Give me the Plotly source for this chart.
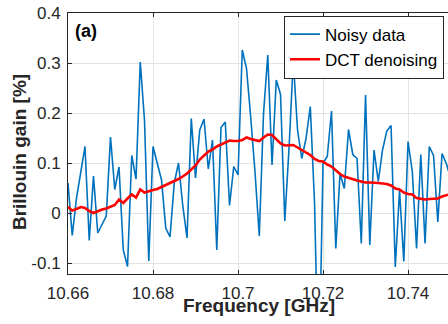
import plotly.graph_objects as go

freq_start = 10.660
freq_step = 0.001

noisy = [0.06, -0.045, 0.03, 0.08, 0.133, -0.055, 0.074, -0.04, -0.022, -0.006,
         0.152, 0.047, 0.092, -0.074, -0.107, 0.115, 0.068, 0.302, 0.185, -0.096,
         0.133, 0.1, 0.066, -0.03, -0.048, 0.06, 0.1, 0.015, -0.05, 0.189,
         0.07, 0.166, 0.188, 0.088, 0.146, -0.074, 0.171, 0.182, 0.015, 0.093,
         0.076, 0.326, 0.289, 0.19, 0.082, -0.046, 0.199, 0.316, 0.096, 0.266,
         0.237, -0.016, 0.13, 0.305, 0.166, 0.109, 0.149, 0.213, 0.02, -0.35,
         0.1, 0.113, 0.204, -0.071, 0.079, 0.049, 0.167, 0.117, 0.109, -0.061,
         0.236, -0.064, 0.126, 0.063, 0.126, 0.164, 0.175, -0.108, 0.045, -0.097,
         0.143, 0.083, -0.071, 0.117, -0.061, 0.133, 0.115, -0.018, 0.119, 0.099,
         0.07]

dct = [0.012, 0.005, 0.008, 0.012, 0.01, 0.004, 0.0, 0.004, 0.007, 0.009,
       0.013, 0.016, 0.027, 0.02, 0.029, 0.037, 0.031, 0.047, 0.041, 0.044,
       0.046, 0.048, 0.052, 0.056, 0.059, 0.063, 0.068, 0.073, 0.079, 0.087,
       0.095, 0.107, 0.116, 0.123, 0.127, 0.133, 0.137, 0.141, 0.145, 0.144,
       0.144, 0.146, 0.151, 0.148, 0.146, 0.144, 0.151, 0.157, 0.156, 0.147,
       0.139, 0.135, 0.135, 0.136, 0.131, 0.126, 0.121, 0.116, 0.108, 0.104,
       0.103, 0.097, 0.093, 0.085, 0.078, 0.073, 0.07, 0.067, 0.065, 0.063,
       0.061, 0.061, 0.061, 0.06, 0.059, 0.058, 0.055, 0.049, 0.047, 0.041,
       0.038, 0.037, 0.03, 0.028, 0.027, 0.028, 0.028, 0.029, 0.033, 0.036,
       0.038]

freq = [round(freq_start + freq_step * i, 4) for i in range(len(noisy))]

x_tickvals = [10.66, 10.68, 10.70, 10.72, 10.74]
x_ticktext = ["10.66", "10.68", "10.7", "10.72", "10.74"]
y_tickvals = [-0.1, 0.0, 0.1, 0.2, 0.3, 0.4]
y_ticktext = ["-0.1", "0", "0.1", "0.2", "0.3", "0.4"]

FONT = "Liberation Sans, Arial, sans-serif"
INK = "#262626"

fig = go.Figure()
fig.add_trace(go.Scatter(x=freq, y=noisy, mode="lines", name="Noisy data",
                         line=dict(color="#0072BD", width=1.6)))
fig.add_trace(go.Scatter(x=freq, y=dct, mode="lines", name="DCT denoising",
                         line=dict(color="#FF0000", width=2.6)))

fig.update_layout(
    width=448, height=324,
    margin=dict(l=68, r=0, t=13, b=50, autoexpand=False),
    plot_bgcolor="white", paper_bgcolor="white",
    font=dict(family=FONT, size=17, color=INK),
    showlegend=True,
    legend=dict(x=0.9895, y=0.99, xanchor="right", yanchor="top",
                bgcolor="white", bordercolor=INK, borderwidth=1,
                font=dict(family=FONT, size=17, color="black"),
                tracegroupgap=0),
)
fig.update_xaxes(range=[10.66, 10.7494], tickvals=x_tickvals, ticktext=x_ticktext,
                 automargin=False, ticklabeloverflow="allow", ticklabelstandoff=4,
                 showgrid=True, gridcolor="#e3e3e3", gridwidth=1,
                 ticks="inside", ticklen=4, tickcolor=INK,
                 showline=True, linecolor=INK, linewidth=1, mirror="ticks",
                 zeroline=False, tickfont=dict(size=17, color=INK))
fig.update_yaxes(range=[-0.122, 0.4], tickvals=y_tickvals, ticktext=y_ticktext,
                 automargin=False, ticklabeloverflow="allow", ticklabelstandoff=3,
                 showgrid=True, gridcolor="#e3e3e3", gridwidth=1,
                 ticks="inside", ticklen=4, tickcolor=INK,
                 showline=True, linecolor=INK, linewidth=1, mirror=False,
                 zeroline=False, tickfont=dict(size=17, color=INK))

fig.add_annotation(text="<b>Brillouin gain [%]</b>", xref="paper", yref="paper",
                   x=-0.129, y=0.467, xanchor="center", yanchor="middle",
                   textangle=-90, showarrow=False,
                   font=dict(family=FONT, size=19, color=INK))
fig.add_annotation(text="<b>Frequency [GHz]</b>", xref="paper", yref="paper",
                   x=0.503, y=-0.121, xanchor="center", yanchor="middle",
                   showarrow=False,
                   font=dict(family=FONT, size=19, color=INK))
fig.add_annotation(text="<b>(a)</b>", xref="paper", yref="paper",
                   x=0.047, y=0.931, xanchor="center", yanchor="middle",
                   showarrow=False,
                   font=dict(family=FONT, size=18, color="black"))

# remove the browser's default 8px body margin so the figure fills the window
fig.write_html("out.html", config={"displayModeBar": False},
               post_script="document.body.style.margin='0';")
